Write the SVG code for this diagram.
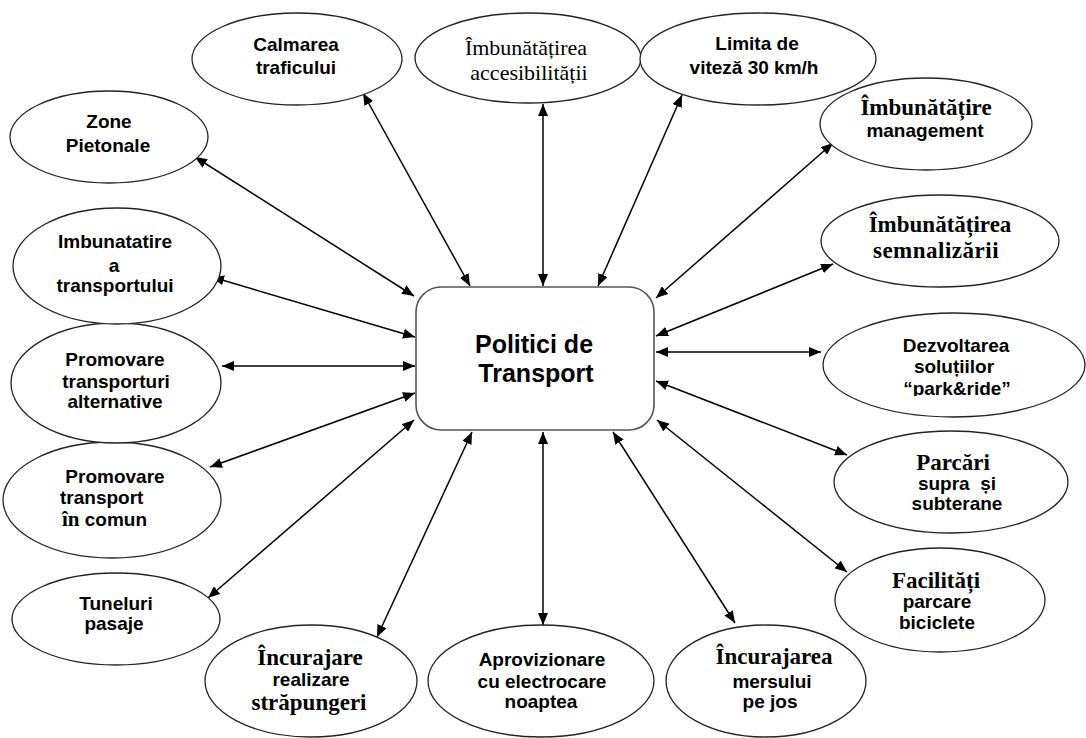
<svg xmlns="http://www.w3.org/2000/svg" width="1086" height="738" viewBox="0 0 1086 738">
  <style>
    .node ellipse { fill: #fff; stroke: #222; stroke-width: 1.3; }
    .hub rect { fill: #fff; stroke: #555; stroke-width: 1.6; }
    .sans { font-family: "Liberation Sans", Arial, sans-serif; font-weight: bold; font-size: 19px; fill: #000; text-anchor: middle; }
    .serif { font-family: "Liberation Serif", "Times New Roman", serif; font-weight: bold; font-size: 23px; fill: #000; text-anchor: middle; }
    .serif-r { font-family: "Liberation Serif", "Times New Roman", serif; font-size: 22px; fill: #000; text-anchor: middle; }
    .title { font-family: "Liberation Sans", Arial, sans-serif; font-weight: bold; font-size: 25px; fill: #000; text-anchor: middle; }
    .left { text-anchor: start; }
    .links line { stroke: #000; stroke-width: 1.5; marker-start: url(#head); marker-end: url(#head); }
  </style>
  <defs>
    <marker id="head" markerUnits="userSpaceOnUse" markerWidth="13" markerHeight="10" refX="12" refY="5" orient="auto-start-reverse">
      <path d="M0,0 L12,5 L0,10 z" fill="#000"/>
    </marker>
    <clipPath id="pr-clip">
      <rect x="820" y="300" width="266" height="96"/>
    </clipPath>
  </defs>
  <rect width="1086" height="738" fill="#fff"/>

  <!-- connectors: hub side first, node side second -->
  <g id="connectors" class="links">
    <line x1="470" y1="286" x2="363" y2="93"/>
    <line x1="543" y1="286" x2="543" y2="104"/>
    <line x1="598" y1="286" x2="682" y2="95"/>
    <line x1="656" y1="298" x2="833" y2="143"/>
    <line x1="656" y1="336" x2="833" y2="264"/>
    <line x1="656" y1="352" x2="821" y2="352"/>
    <line x1="656" y1="381" x2="847" y2="455"/>
    <line x1="657" y1="420" x2="847" y2="572"/>
    <line x1="613" y1="432" x2="735" y2="623"/>
    <line x1="543" y1="432" x2="543" y2="625"/>
    <line x1="472" y1="432" x2="377" y2="637"/>
    <line x1="414" y1="420" x2="208" y2="598"/>
    <line x1="415" y1="393" x2="210" y2="467"/>
    <line x1="415" y1="366" x2="222" y2="366"/>
    <line x1="415" y1="337" x2="212" y2="277"/>
    <line x1="414" y1="296" x2="195" y2="157"/>
  </g>

  <g id="hub" class="hub">
    <rect x="416" y="287" width="238" height="143" rx="25"/>
    <text class="title" x="534" y="353">Politici de</text>
    <text class="title" x="536" y="382">Transport</text>
  </g>

  <g id="calmarea" class="node">
    <ellipse cx="297" cy="59" rx="105" ry="46"/>
    <text class="sans" x="296" y="51">Calmarea</text>
    <text class="sans" x="296" y="74">traficului</text>
  </g>

  <g id="accesibilitate" class="node">
    <ellipse cx="528" cy="58" rx="113" ry="45"/>
    <text class="serif-r" x="526" y="55">Îmbunătățirea</text>
    <text class="serif-r" x="529" y="80">accesibilității</text>
  </g>

  <g id="limita" class="node">
    <ellipse cx="758" cy="59" rx="118" ry="46"/>
    <text class="sans" x="757" y="50">Limita de</text>
    <text class="sans" x="754" y="74">viteză 30 km/h</text>
  </g>

  <g id="management" class="node">
    <ellipse cx="926" cy="124" rx="106" ry="46"/>
    <text class="serif" x="926" y="115">Îmbunătățire</text>
    <text class="sans" x="925" y="137">management</text>
  </g>

  <g id="semnalizare" class="node">
    <ellipse cx="940" cy="241" rx="119" ry="46"/>
    <text class="serif" x="940" y="232">Îmbunătățirea</text>
    <text class="serif" x="936" y="258" letter-spacing="0.5">semnalizării</text>
  </g>

  <g id="park-ride" class="node">
    <ellipse cx="954" cy="365" rx="131" ry="52"/>
    <text class="sans" x="956" y="352">Dezvoltarea</text>
    <text class="sans" x="954" y="373">soluțiilor</text>
    <text class="sans" x="957" y="395" clip-path="url(#pr-clip)">“park&amp;ride”</text>
  </g>

  <g id="parcari" class="node">
    <ellipse cx="951" cy="482" rx="117" ry="51"/>
    <text class="serif" x="953" y="470">Parcări</text>
    <text class="sans" x="957" y="490" style="white-space:pre">supra  și</text>
    <text class="sans" x="957" y="510">subterane</text>
  </g>

  <g id="biciclete" class="node">
    <ellipse cx="940" cy="600" rx="105" ry="52"/>
    <text class="serif" x="936" y="588">Facilități</text>
    <text class="sans" x="937" y="608">parcare</text>
    <text class="sans" x="937" y="629">biciclete</text>
  </g>

  <g id="mers-pe-jos" class="node">
    <ellipse cx="766" cy="681" rx="100" ry="56"/>
    <text class="serif" x="774" y="664">Încurajarea</text>
    <text class="sans" x="772" y="688">mersului</text>
    <text class="sans" x="770" y="708">pe jos</text>
  </g>

  <g id="aprovizionare" class="node">
    <ellipse cx="541" cy="681" rx="113" ry="56"/>
    <text class="sans" x="542" y="666">Aprovizionare</text>
    <text class="sans" x="542" y="688">cu electrocare</text>
    <text class="sans" x="541" y="708">noaptea</text>
  </g>

  <g id="strapungeri" class="node">
    <ellipse cx="311" cy="681" rx="106" ry="56"/>
    <text class="serif" x="310" y="665">Încurajare</text>
    <text class="sans" x="311" y="686">realizare</text>
    <text class="serif" x="309" y="710">străpungeri</text>
  </g>

  <g id="tuneluri" class="node">
    <ellipse cx="116" cy="619" rx="104" ry="46"/>
    <text class="sans" x="116" y="610">Tuneluri</text>
    <text class="sans" x="114" y="630">pasaje</text>
  </g>

  <g id="transport-comun" class="node">
    <ellipse cx="112" cy="500" rx="109" ry="58"/>
    <text class="sans" x="115" y="483">Promovare</text>
    <text class="sans left" x="60" y="504">transport</text>
    <text class="sans left" x="62" y="526"><tspan font-family="Liberation Serif, serif" font-size="21">în</tspan> comun</text>
  </g>

  <g id="transport-alternativ" class="node">
    <ellipse cx="116" cy="383" rx="105" ry="60"/>
    <text class="sans" x="115" y="366">Promovare</text>
    <text class="sans" x="116" y="388">transporturi</text>
    <text class="sans" x="115" y="408">alternative</text>
  </g>

  <g id="imbunatatire-transport" class="node">
    <ellipse cx="117" cy="266" rx="104" ry="58"/>
    <text class="sans" x="115" y="248">Imbunatatire</text>
    <text class="sans" x="114" y="272">a</text>
    <text class="sans" x="115" y="292">transportului</text>
  </g>

  <g id="zone-pietonale" class="node">
    <ellipse cx="109" cy="137" rx="99" ry="46"/>
    <text class="sans" x="109" y="128">Zone</text>
    <text class="sans" x="108" y="152">Pietonale</text>
  </g>
</svg>
